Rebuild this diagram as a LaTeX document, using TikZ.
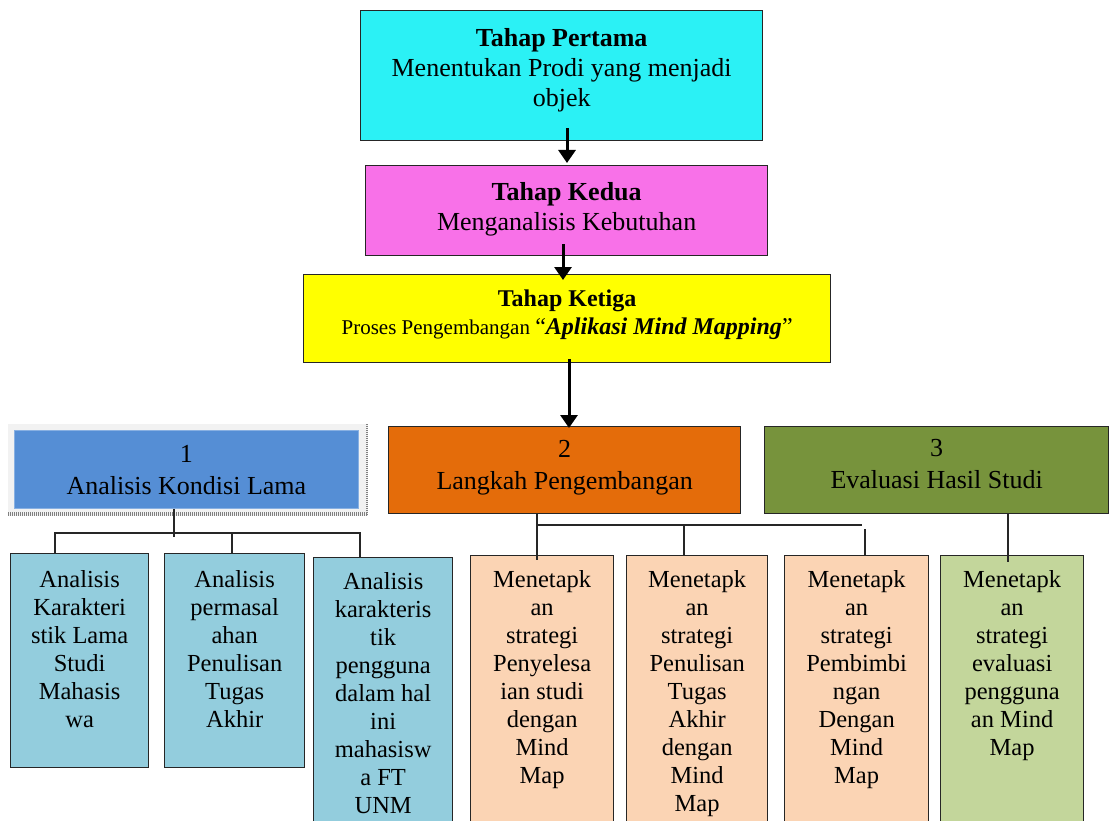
\documentclass[tikz,border=0pt]{standalone}
\usepackage{fontspec}
\setmainfont{Liberation Serif}
\usetikzlibrary{arrows.meta}
\definecolor{cyanb}{HTML}{2BF1F5}
\definecolor{magb}{HTML}{F871E8}
\definecolor{yelb}{HTML}{FFFF00}
\definecolor{blueb}{HTML}{558ED5}
\definecolor{orab}{HTML}{E46C0A}
\definecolor{oliveb}{HTML}{77933C}
\definecolor{ltblue}{HTML}{93CDDD}
\definecolor{peach}{HTML}{FBD4B4}
\definecolor{ltgreen}{HTML}{C3D69B}
\definecolor{framegray}{HTML}{F2F2F2}
\newcommand{\bxt}[4]{\parbox[c][#2][t]{#1}{\centering\vspace*{#3}#4\par}}
\newcommand{\bigf}{\fontsize{26}{30}\selectfont}
\newcommand{\smf}{\fontsize{24.5}{28}\selectfont}
\begin{document}
\begin{tikzpicture}[x=1pt,y=-1pt,
  box/.style={draw=black!85, line width=1.3pt, inner sep=0pt, anchor=north west},
  wire/.style={line width=1.3pt, draw=black!85},
  bigarrow/.style={line width=3pt, draw=black, -{Triangle[width=17pt,length=13pt]}}]
\useasboundingbox (0,0) rectangle (1110,821);

% top stages
\node[box, fill=cyanb] (s1) at (360,10)
  {\bxt{402pt}{130pt}{18pt}{\bigf\textbf{Tahap Pertama}\\Menentukan Prodi yang menjadi\\objek}};
\node[box, fill=magb] (s2) at (365,165)
  {\bxt{402pt}{90pt}{17pt}{\bigf\textbf{Tahap Kedua}\\Menganalisis Kebutuhan}};
\node[box, fill=yelb] (s3) at (303,274)
  {\bxt{527pt}{88pt}{15pt}{\fontsize{24}{28}\selectfont\textbf{Tahap Ketiga}\\
   {\fontsize{21}{28}\selectfont Proses Pengembangan }{\fontsize{24}{28}\selectfont “\textbf{\textit{Aplikasi Mind Mapping}}”}}};

% frame behind box 1
\fill[framegray] (8,424) rectangle (368,516);
\draw[gray, line width=4pt, dash pattern=on 1pt off 1pt] (8,514) -- (368,514);
\draw[gray, line width=1.5pt, dash pattern=on 1pt off 1pt] (367,424) -- (367,516);

% second level
\node[box, draw=blueb!70!white, line width=0.8pt, fill=blueb] (c1) at (14,430)
  {\bxt{344pt}{78pt}{15pt}{\fontsize{26}{32}\selectfont 1\\Analisis Kondisi Lama}};
\node[box, fill=orab] (c2) at (388,426)
  {\bxt{352pt}{87pt}{14pt}{\fontsize{26}{32}\selectfont 2\\Langkah Pengembangan}};
\node[box, fill=oliveb] (c3) at (764,426)
  {\bxt{344pt}{87pt}{13pt}{\fontsize{26}{32}\selectfont 3\\Evaluasi Hasil Studi}};

% bottom boxes
\node[box, fill=ltblue] (a1) at (10,553)
  {\bxt{138pt}{214pt}{17pt}{\smf Analisis\\Karakteri\\stik Lama\\Studi\\Mahasis\\wa}};
\node[box, fill=ltblue] (a2) at (164,553)
  {\bxt{140pt}{214pt}{17pt}{\smf Analisis\\permasal\\ahan\\Penulisan\\Tugas\\Akhir}};
\node[box, fill=ltblue] (a3) at (313,557)
  {\bxt{139pt}{285pt}{15pt}{\smf Analisis\\karakteris\\tik\\pengguna\\dalam hal\\ini\\mahasisw\\a FT\\UNM}};
\node[box, fill=peach] (b1) at (470,555)
  {\bxt{143pt}{285pt}{15pt}{\smf Menetapk\\an\\strategi\\Penyelesa\\ian studi\\dengan\\Mind\\Map}};
\node[box, fill=peach] (b2) at (626,555)
  {\bxt{141pt}{285pt}{15pt}{\smf Menetapk\\an\\strategi\\Penulisan\\Tugas\\Akhir\\dengan\\Mind\\Map}};
\node[box, fill=peach] (b3) at (784,555)
  {\bxt{144pt}{285pt}{15pt}{\smf Menetapk\\an\\strategi\\Pembimbi\\ngan\\Dengan\\Mind\\Map}};
\node[box, fill=ltgreen] (g1) at (940,555)
  {\bxt{143pt}{285pt}{15pt}{\smf Menetapk\\an\\strategi\\evaluasi\\pengguna\\an Mind\\Map}};

% connectors group 1
\coordinate (jL) at (174,537);
\coordinate (hL1) at (55,533);
\coordinate (hL2) at (232,533);
\coordinate (hL3) at (360,533);
\draw[wire] (jL |- c1.south) -- (jL);
\draw[wire] (hL1 |- a1.north) -- (hL1) -- (hL3) -- (hL3 |- a3.north);
\draw[wire] (hL2) -- (hL2 |- a2.north);

% connectors group 2
\coordinate (jO) at (537,560);
\coordinate (hO1) at (537,525);
\coordinate (hO2) at (684,525);
\coordinate (hO3) at (862,525);
\coordinate (hO4) at (865,529);
\draw[wire] (jO |- c2.south) -- (jO);
\draw[wire] (hO1) -- (hO3);
\draw[wire] (hO2) -- (hO2 |- b2.north);
\draw[wire] (hO4) -- (hO4 |- b3.north);

% connector group 3
\coordinate (jG) at (1008,562);
\draw[wire] (jG |- c3.south) -- (jG);

% arrows
\coordinate (x1) at (567,0);
\coordinate (x2) at (563,0);
\coordinate (x3) at (569,0);
\draw[bigarrow] ([yshift=13pt]x1 |- s1.south) -- ([yshift=2pt]x1 |- s2.north);
\draw[bigarrow] ([yshift=12pt]x2 |- s2.south) -- ([yshift=-6pt]x2 |- s3.north);
\draw[bigarrow] ([yshift=4pt]x3 |- s3.south) -- ([yshift=-2pt]x3 |- c2.north);
\end{tikzpicture}
\end{document}
